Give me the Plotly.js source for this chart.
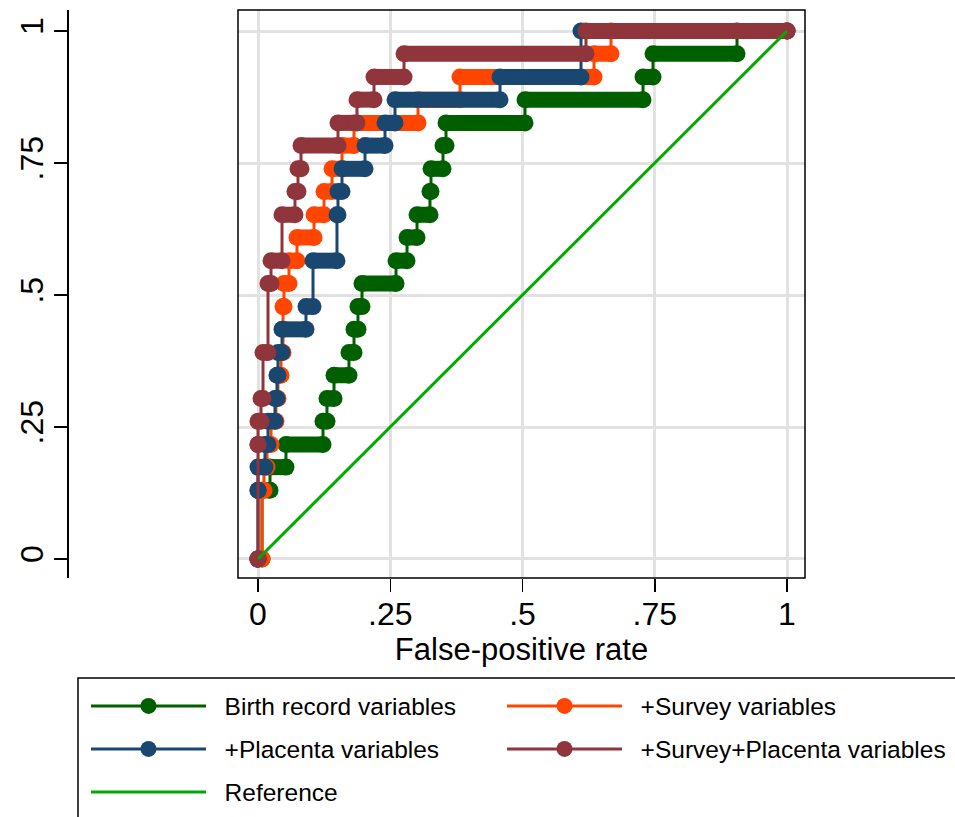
<!DOCTYPE html>
<html><head><meta charset="utf-8">
<script src="https://cdn.plot.ly/plotly-3.0.1.min.js"></script>
<style>html,body{margin:0;padding:0;background:#fff}#chart{width:955px;height:817px}</style>
</head><body><div id="chart"></div>
<script>
// ROC step data: at each true-positive rate level, the curve runs right to fprEnd
const birthTpr = [0,0.130,0.174,0.217,0.261,0.304,0.348,0.391,0.435,0.478,0.522,0.565,0.609,0.652,0.696,0.739,0.783,0.826,0.870,0.913,0.957,1];
const birthFpr = [0.0076,0.0227,0.0529,0.1229,0.1304,0.1437,0.1720,0.1815,0.1890,0.1966,0.2609,0.2817,0.3006,0.3251,0.3270,0.3497,0.3554,0.5047,0.7278,0.7467,0.9055,1];

const surveyTpr = [0,0.130,0.174,0.217,0.261,0.304,0.348,0.391,0.435,0.478,0.522,0.565,0.609,0.652,0.696,0.739,0.783,0.826,0.870,0.913,0.957,1];
const surveyFpr = [0.0076,0.0113,0.0170,0.0246,0.0340,0.0378,0.0435,0.0473,0.0473,0.0491,0.0586,0.0737,0.1059,0.1248,0.1399,0.1588,0.1815,0.3025,0.3819,0.6352,0.6673,1];

const placentaTpr = [0,0.130,0.174,0.217,0.261,0.304,0.348,0.391,0.435,0.478,0.565,0.652,0.696,0.739,0.783,0.826,0.870,0.913,1];
const placentaFpr = [0,0,0.0132,0.0189,0.0321,0.0359,0.0378,0.0454,0.0907,0.1040,0.1493,0.1512,0.1588,0.2023,0.2401,0.2590,0.4575,0.6106,1];

const bothTpr = [0,0.217,0.261,0.304,0.391,0.522,0.565,0.652,0.696,0.739,0.783,0.826,0.870,0.913,0.957,1];
const bothFpr = [0,0,0.0057,0.0095,0.0189,0.0246,0.0454,0.0699,0.0756,0.0813,0.1512,0.1871,0.2193,0.2760,0.6200,1];

const refX = [0,1];
const refY = [0,1];

const seriesNames = ['Birth record variables','+Survey variables','+Placenta variables','+Survey+Placenta variables'];
const refName = 'Reference';
const xTickVals = [0,0.25,0.5,0.75,1];
const xTickText = ['0','.25','.5','.75','1'];
const yTickVals = [0,0.25,0.5,0.75,1];
const yTickText = ['0','.25','.5','.75','1'];

const colors = ['#006000','#ff4500','#1a476f','#90353b'];
const refColor = '#00aa00';
const legendOf = ['legend','legend2','legend3','legend4'];

const series = [
  [birthFpr, birthTpr],
  [surveyFpr, surveyTpr],
  [placentaFpr, placentaTpr],
  [bothFpr, bothTpr]
];

const GAP = '\u00A0\u00A0'; // Stata's wider key-to-label gap
const traces = [];
series.forEach(([fe, tp], s) => {
  const vx = [], vy = [], bx = [], by = [];
  let start = 0;
  for (let i = 0; i < tp.length; i++) {
    vx.push(start); vy.push(tp[i]);
    vx.push(fe[i]); vy.push(tp[i]);
    if (fe[i] > start) { bx.push(start, fe[i], null); by.push(tp[i], tp[i], null); }
    start = fe[i];
  }
  traces.push({
    x: bx, y: by, type: 'scatter', mode: 'lines', showlegend: false, hoverinfo: 'skip',
    line: {color: colors[s], width: 16}
  });
  traces.push({
    x: vx, y: vy, type: 'scatter', mode: 'lines+markers', name: GAP + seriesNames[s],
    legend: legendOf[s],
    line: {color: colors[s], width: 3},
    marker: {color: colors[s], size: 17, line: {width: 0}}
  });
});
traces.push({
  x: refX, y: refY, type: 'scatter', mode: 'lines', name: GAP + refName, legend: 'legend5',
  line: {color: refColor, width: 3}
});

const W = 955, H = 817;
const px = v => v / W, py = v => 1 - v / H;
const legBase = {
  orientation: 'v', xanchor: 'left', yanchor: 'middle',
  font: {size: 24.5, color: '#000', family: 'Liberation Sans, Arial, sans-serif'},
  bgcolor: 'rgba(0,0,0,0)', borderwidth: 0, itemwidth: 115,
  itemclick: false, itemdoubleclick: false, tracegroupgap: 0
};
const leg = (xp, yp) => Object.assign({}, legBase, {x: px(xp), y: py(yp)});

const layout = {
  width: W, height: H,
  margin: {l: 0, r: 0, t: 0, b: 0},
  paper_bgcolor: '#fff', plot_bgcolor: '#fff',
  font: {family: 'Liberation Sans, Arial, sans-serif', color: '#000'},
  showlegend: true,
  xaxis: {
    domain: [px(238), px(805)], range: [-0.0378, 1.0340], anchor: 'y',
    tickvals: xTickVals, ticktext: xTickText, ticks: 'outside', ticklen: 13, tickwidth: 1.5, tickcolor: '#000',
    ticklabelstandoff: -5,
    showgrid: true, gridcolor: '#e2e2e2', gridwidth: 3, zeroline: false, showline: false,
    tickfont: {size: 32}, title: {text: 'False-positive rate', font: {size: 31}, standoff: 0}
  },
  yaxis: {
    domain: [py(578), py(10)], range: [-0.036, 1.0398], anchor: 'free', position: px(67),
    tickvals: yTickVals, ticktext: yTickText, ticks: 'outside', ticklen: 13, tickwidth: 1.5, tickcolor: '#000',
    ticklabelstandoff: -2,
    tickangle: -90, showgrid: true, gridcolor: '#e2e2e2', gridwidth: 3, zeroline: false,
    showline: true, linecolor: '#000', linewidth: 1.5, tickfont: {size: 32}
  },
  legend: leg(86, 706),
  legend2: leg(502, 706),
  legend3: leg(86, 749),
  legend4: leg(502, 749),
  legend5: leg(86, 792),
  shapes: [
    {type: 'rect', xref: 'paper', yref: 'paper', x0: px(238), x1: px(805), y0: py(578), y1: py(10),
     line: {color: '#000', width: 1.5}, fillcolor: 'rgba(0,0,0,0)', layer: 'above'},
    {type: 'rect', xref: 'paper', yref: 'paper', x0: px(78), x1: px(965), y0: py(678), y1: py(830),
     line: {color: '#000', width: 1.5}, fillcolor: 'rgba(0,0,0,0)', layer: 'below'}
  ]
};

Plotly.newPlot('chart', traces, layout, {displayModeBar: false, staticPlot: true});
</script>
</body></html>
